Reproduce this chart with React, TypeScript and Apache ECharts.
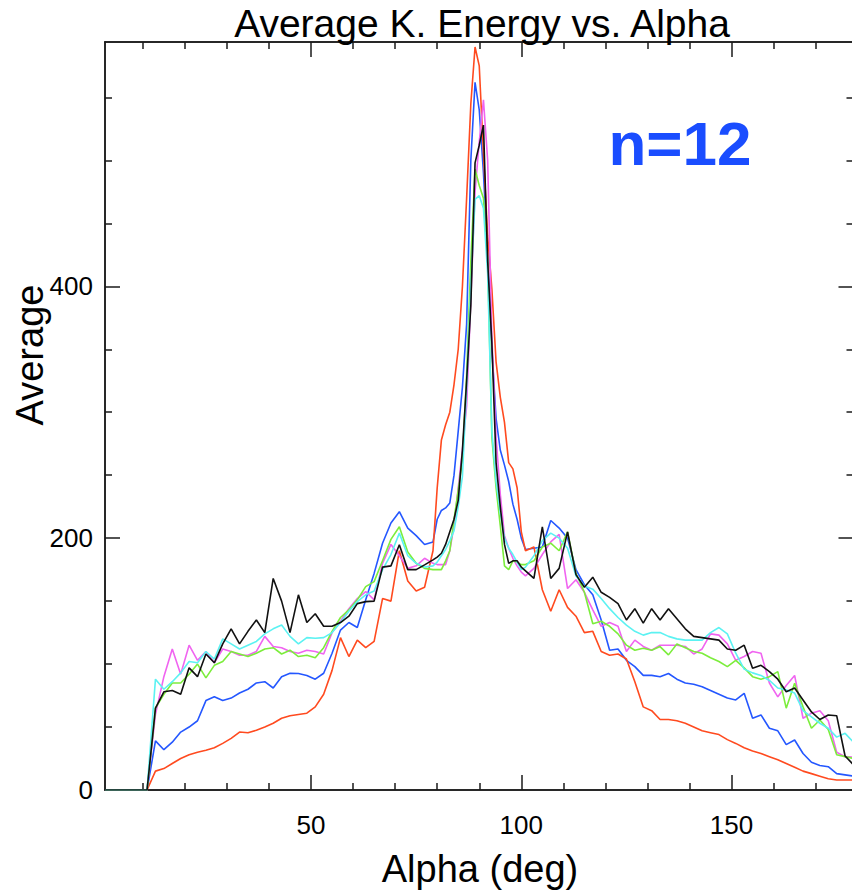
import React, { useEffect, useRef } from "react";
import * as echarts from "echarts";

const xs: number[] = [1,3,5,7,9,11,13,15,17,19,21,23,25,27,29,31,33,35,37,39,41,43,45,47,49,51,53,55,57,59,61,63,65,67,69,71,73,75,77,79,80,81,82,83,84,85,86,87,88,89,90,91,92,93,94,95,96,97,98,99,100,101,103,105,107,109,111,113,115,117,119,121,123,125,127,129,131,133,135,137,139,141,143,145,147,149,151,153,155,157,159,161,163,165,167,169,171,173,175,177,179];

const redVals: number[] = [0,0,0,0,0,0,15,17,21,25,28,30,31.5,33.5,37,41,46,45.5,47.5,50,53,57,59,60,61,66,76,95,121,106,119,113,118,152,150,190,166,158,161,190,
240,278,290,300,322,350,400,470,545,590,575,505,440,398,340,312,292,260,255,240,205,
190,193,159,142,159,145,138,125,126,110,107,108,104,86,66,63,56,56,55,53,50,47,45.5,44,40,37,33.5,31,29,26.5,24,21,18,15,13,11,9,8,8,8];

const blueVals: number[] = [0,0,0,0,0,0,39,32,38,46,50,55,71,74,71,73,77,80,85,86,81,90,92.7,92.5,91,88,92.7,108.6,127,133,129,151,172,196,212,221,208,202,195,197,
215,222,224,228,250,285,320,370,500,562,540,490,425,350,295,270,258,245,227,215,200,
191,192,193,214,208,200,175,163,155,135,111,112,103,98,91,91,90,92.5,88,85,84,82,79,76,73,71.5,76.8,57,59.6,49,47,36,39.7,29,22,19.5,18.5,13,12,11];

const magentaVals: number[] = [0,0,0,0,0,0,60,90,112,92,115,103,110,101,112,110,107,107,110,122,114,113,110,108.6,111,110,108,125,134,144,152,157.6,151,180,195,186,176,178,184,180,
179,179,179,190,210,240,270,305,390,475,515,548,500,360,280,235,202,192,184,178,173,
170,176,187,197,203,160,167,157,143,130,133,130,110,119,114,111,115,115,115,114,108,112,124,123,116,103,106,110,108.6,85,74,83,91,57,61,63,55,30,26.5,26];

const greenVals: number[] = [0,0,0,0,0,0,65,76,85,85,92,100,89,99,102,110,108,106,108.6,112,113,108,111,106,107,105,113,126,137,143,151,161.5,165.5,182,199,209,189,180,176,175,
175,175,182,190,215,238,262,330,420,493,480,470,420,280,240,210,178,175,182,181,179,
179,182,193,196,190,205,172,157,132,134,130,124,115,111,112.6,111,113.9,107.3,116,113,110,108.6,105,102,98,103,97,90,88,90,94,65,84.8,66,49,55.6,48,28,26.5,25];

const cyanVals: number[] = [0,0,0,0,0,0,88,80,86,93,102,101,110,104,120,116,112,115,118,124,128,131,122,116,121,120.5,121,125,133,142,149.6,155,158,175,187,204,186,180,177,178,
181,186,191,198,206,225,249,320,400,469,472,462,410,285,245,220,200,192,187,181,175,
177,186,198,204,200,192,170,162,159.5,152,144,137,131,126,123,125,125,122,120,119,119,119,125,129,124,108.6,96,93,91,87,81,79.5,77,63,58,53,49,42,45,38];

const blackVals: number[] = [0,0,0,0,0,0,65,78,79,76,97,90,108,101,116,128,116,126,135,125,168,150,125,155,133,140,130,130,133,138,148,149.6,150,177,178,194.7,175,175,178.8,182.7,
185,188,195,205,215,230,270,325,385,498,512,528,420,355,260,225,195,180,182,182,177,
174,168,209,168,176,205,171,161,169,157,153,148,135,144,132.5,144,135,144,136,128,122,121,120,119,112,111,115,96.7,99,94,88,78,81,71.5,62,56,59.6,59,27,20];

const xMajor: number[] = [50, 100, 150];
const xMinor: number[] = [10, 20, 30, 40, 60, 70, 80, 90, 110, 120, 130, 140, 160, 170];
const yMajor: number[] = [0, 200, 400];
const yMinor: number[] = [50, 100, 150, 250, 300, 350, 450, 500, 550];

const FONT = "'Liberation Sans', Arial, Helvetica, sans-serif";
const AXIS_COLOR = "#1a1a1a";

function pairs(vals: number[]) {
  return xs.map((x, i) => [x, vals[i]]);
}

export default function App() {
  const ref = useRef<HTMLDivElement>(null);
  useEffect(() => {
    if (!ref.current) return;
    const chart = echarts.init(ref.current, null, { renderer: "svg" });
    const lineAxis = { show: true, onZero: false, lineStyle: { color: AXIS_COLOR, width: 1.5 } };
    const mkX = (position: string, ticks: number[], len: number, labels: boolean) => ({
      type: "value",
      position,
      min: 1,
      max: 179,
      axisLine: lineAxis,
      splitLine: { show: false },
      axisTick: { show: true, inside: true, length: len, customValues: ticks, lineStyle: { color: AXIS_COLOR, width: 1.5 } },
      axisLabel: labels
        ? { show: true, customValues: ticks, fontSize: 26, color: "#000", fontFamily: FONT, margin: 22 }
        : { show: false },
    });
    const mkY = (position: string, ticks: number[], len: number, labels: boolean) => ({
      type: "value",
      position,
      min: 0,
      max: 594,
      axisLine: lineAxis,
      splitLine: { show: false },
      axisTick: { show: true, inside: true, length: len, customValues: ticks, lineStyle: { color: AXIS_COLOR, width: 1.5 } },
      axisLabel: labels
        ? { show: true, customValues: ticks, fontSize: 26, color: "#000", fontFamily: FONT, margin: 12 }
        : { show: false },
    });
    const mkSeries = (name: string, vals: number[], color: string) => ({
      name,
      type: "line",
      xAxisIndex: 0,
      yAxisIndex: 0,
      data: pairs(vals),
      showSymbol: false,
      symbol: "none",
      lineStyle: { color, width: 1.6 },
      itemStyle: { color },
    });
    chart.setOption({
      animation: false,
      backgroundColor: "#ffffff",
      grid: { left: 105, right: 6.5, top: 42, bottom: 102, containLabel: false },
      xAxis: [
        mkX("bottom", xMajor, 15, true),
        mkX("bottom", xMinor, 7, false),
        mkX("top", xMajor, 15, false),
        mkX("top", xMinor, 7, false),
      ],
      yAxis: [
        mkY("left", yMajor, 15, true),
        mkY("left", yMinor, 7, false),
        mkY("right", [200, 400], 15, false),
        mkY("right", yMinor, 7, false),
      ],
      series: [
        mkSeries("blue", blueVals, "#2457ff"),
        mkSeries("red", redVals, "#ff4a1f"),
        mkSeries("magenta", magentaVals, "#f064f0"),
        mkSeries("green", greenVals, "#7ced3c"),
        mkSeries("cyan", cyanVals, "#5cf2f2"),
        mkSeries("black", blackVals, "#111111"),
      ],
      graphic: [
        {
          type: "text",
          z: 100,
          style: {
            text: "Average K. Energy vs. Alpha",
            x: 482,
            y: 23,
            textAlign: "center",
            textVerticalAlign: "middle",
            font: `39px ${FONT}`,
            fill: "#000",
          },
        },
        {
          type: "text",
          style: {
            text: "Alpha (deg)",
            x: 480,
            y: 869,
            textAlign: "center",
            textVerticalAlign: "middle",
            font: `38px ${FONT}`,
            fill: "#000",
          },
        },
        {
          type: "text",
          x: 30,
          y: 355,
          rotation: Math.PI / 2,
          style: {
            text: "Average",
            x: 0,
            y: 0,
            textAlign: "center",
            textVerticalAlign: "middle",
            font: `38px ${FONT}`,
            fill: "#000",
          },
        },
        {
          type: "text",
          style: {
            text: "n=12",
            x: 680,
            y: 143,
            textAlign: "center",
            textVerticalAlign: "middle",
            font: `bold 62px ${FONT}`,
            fill: "#1a4dff",
          },
        },
      ],
    });
    return () => chart.dispose();
  }, []);
  return (
    <div style={{ position: "absolute", left: 0, top: 0, width: 852, height: 892, overflow: "hidden", background: "#fff" }}>
      <div ref={ref} style={{ width: 860, height: 892 }} />
    </div>
  );
}
